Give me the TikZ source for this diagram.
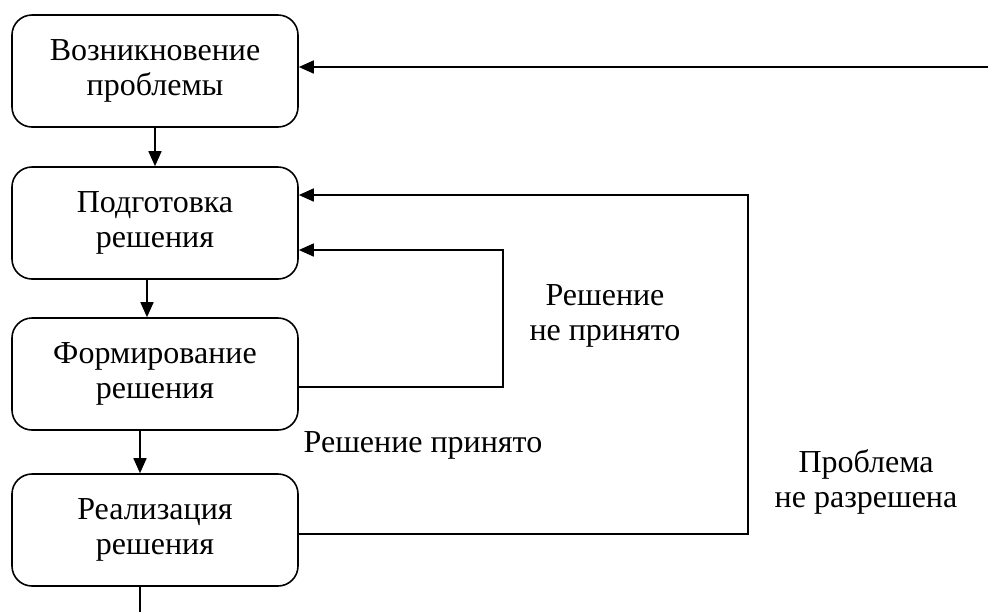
\documentclass[tikz,border=0pt]{standalone}
\usepackage{fontspec}
\setmainfont{Liberation Serif}
\usetikzlibrary{arrows.meta}

\begin{document}
\begin{tikzpicture}[x=0.5pt,y=-0.5pt,line width=0.8pt,
      stage/.style = {draw, rounded corners=10pt, align=center,
        minimum width=143pt, minimum height=56pt, inner sep=2pt},
      arr/.style = {-{Triangle[length=7.5pt,width=6.5pt]}},
      note/.style = {align=center}]
  \useasboundingbox (0,0) rectangle (988,612);
  \fontsize{16}{17.5}\selectfont

  % Stages
  \node[stage] (b1) at (155,71) {Возникновение\\проблемы};
  \node[stage] (b2) at (155,223) {Подготовка\\решения};
  \node[stage] (b3) at (155,374) {Формирование\\решения};
  \node[stage] (b4) at (155,530) {Реализация\\решения};

  % Main flow
  \draw[arr] (b1.south) -- (b2.north);
  \draw[arr] ([xshift=-4pt]b2.south) -- ([xshift=-4pt]b3.north);
  \draw[arr] ([xshift=-7.5pt]b3.south) -- ([xshift=-7.5pt]b4.north);
  \coordinate (out) at (140,612);
  \draw ([xshift=-7.5pt]b4.south) -- (out);

  % Feedback loops
  \coordinate (in) at (988,67);
  \draw[arr] (in) -- (in -| b1.east);
  \coordinate (lp1) at (503,250);
  \draw[arr] ([yshift=-6.5pt]b3.east) -| (lp1) -- (lp1 -| b2.east);
  \coordinate (lp2) at (748,195);
  \draw[arr] ([yshift=-2pt]b4.east) -| (lp2) -- (lp2 -| b2.east);

  % Labels
  \node[note] (n1) at (605,316) {Решение\\не принято};
  \node[note] (n2) at (423,445) {Решение принято};
  \node[note] (n3) at (866,482) {Проблема\\не разрешена};
\end{tikzpicture}
\end{document}
